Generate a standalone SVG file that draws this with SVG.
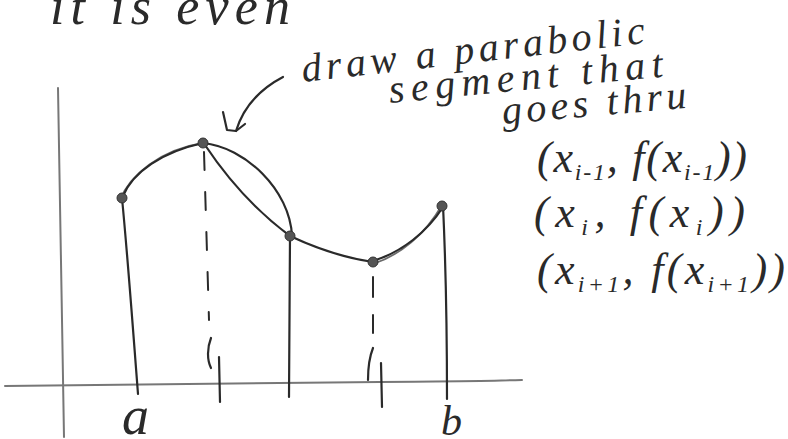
<svg xmlns="http://www.w3.org/2000/svg" width="788" height="439" viewBox="0 0 788 439">
<style>
.ink{fill:none;stroke:#2a2a2a;stroke-width:2.2;stroke-linecap:round;stroke-linejoin:round}
.pencil{fill:none;stroke:#6a6a6a;stroke-width:1.8;stroke-linecap:round}
.axis{fill:none;stroke:#777;stroke-width:2;stroke-linecap:round}
.dash{fill:none;stroke:#2a2a2a;stroke-width:2;stroke-linecap:round;stroke-dasharray:18 22}
.dot{fill:#555;stroke:#333;stroke-width:1}
.hand{font-family:"Liberation Serif","DejaVu Serif",serif;font-style:italic;fill:#2a2a2a}
.sub{font-size:24px}
</style>
<rect width="788" height="439" fill="#fff"/>
<g id="title"><text class="hand" x="50" y="24" font-size="52" textLength="240" lengthAdjust="spacing">it is even</text></g>
<g id="axes">
<path class="axis" d="M5,386 C120,384 250,383 380,382 S480,381 522,380"/>
<path class="axis" d="M58,88 C60,200 62,320 64,437"/>
</g>
<g id="curve">
<path class="pencil" d="M120,200 C130,175 160,150 203,143"/>
<path class="ink" d="M123,196 C133,172 162,152 203,143"/>
<path class="ink" d="M203,143 C245,147 290,190 292,236"/>
<path class="ink" d="M205,145 C225,175 255,210 290,236"/>
<path class="ink" d="M290,236 C320,250 345,258 373,262"/>
<path class="pencil" d="M373,264 C400,255 425,235 442,205"/>
<path class="ink" d="M373,261 C402,252 427,232 443,207"/>
</g>
<g id="ordinates">
<path class="ink" d="M122,198 C128,260 133,330 138,394"/>
<path class="ink" d="M290,236 L289,397"/>
<path class="ink" d="M443,205 C446,270 447,340 447,399"/>
<path class="dash" d="M204,152 L209,320"/>
<path class="ink" d="M211,338 C207,348 207,360 211,368"/>
<path class="ink" d="M219,357 L220,402"/>
<path class="dash" d="M373,277 L373,333" style="stroke-dasharray:20 18"/>
<path class="ink" d="M373,348 C369,358 368,370 368,380"/>
<path class="ink" d="M381,363 L382,407"/>
</g>
<g id="points">
<circle class="dot" cx="122" cy="198" r="5"/>
<circle class="dot" cx="203" cy="143" r="5"/>
<circle class="dot" cx="290" cy="236" r="5"/>
<circle class="dot" cx="373" cy="262" r="5"/>
<circle class="dot" cx="442" cy="206" r="5"/>
</g>
<g id="connectors">
<path class="ink" d="M283,77 C262,88 244,105 236,131"/>
<path class="ink" d="M223,112 L227,130 L236,131 L245,124"/>
</g>
<g id="labels">
<text class="hand" x="122" y="434" font-size="54">a</text>
<text class="hand" x="441" y="435" font-size="42">b</text>
</g>
<g id="note">
<text class="hand" font-size="40" transform="translate(303,82) rotate(-6.5)" textLength="345" lengthAdjust="spacing">draw a parabolic</text>
<text class="hand" font-size="40" transform="translate(390,103) rotate(-5.5)" textLength="275" lengthAdjust="spacing">segment that</text>
<text class="hand" font-size="40" transform="translate(503,124) rotate(-5)" textLength="185" lengthAdjust="spacing">goes thru</text>
<text class="hand" x="537" y="172" font-size="44" textLength="210" lengthAdjust="spacing">(x<tspan class="sub" dy="8">i-1</tspan><tspan dy="-8">, f(x</tspan><tspan class="sub" dy="8">i-1</tspan><tspan dy="-8">))</tspan></text>
<text class="hand" x="534" y="227" font-size="44" textLength="211" lengthAdjust="spacing">(x<tspan class="sub" dy="8">i</tspan><tspan dy="-8">, f(x</tspan><tspan class="sub" dy="8">i</tspan><tspan dy="-8">))</tspan></text>
<text class="hand" x="537" y="284" font-size="44" textLength="248" lengthAdjust="spacing">(x<tspan class="sub" dy="8">i+1</tspan><tspan dy="-8">, f(x</tspan><tspan class="sub" dy="8">i+1</tspan><tspan dy="-8">))</tspan></text>
</g>
</svg>
